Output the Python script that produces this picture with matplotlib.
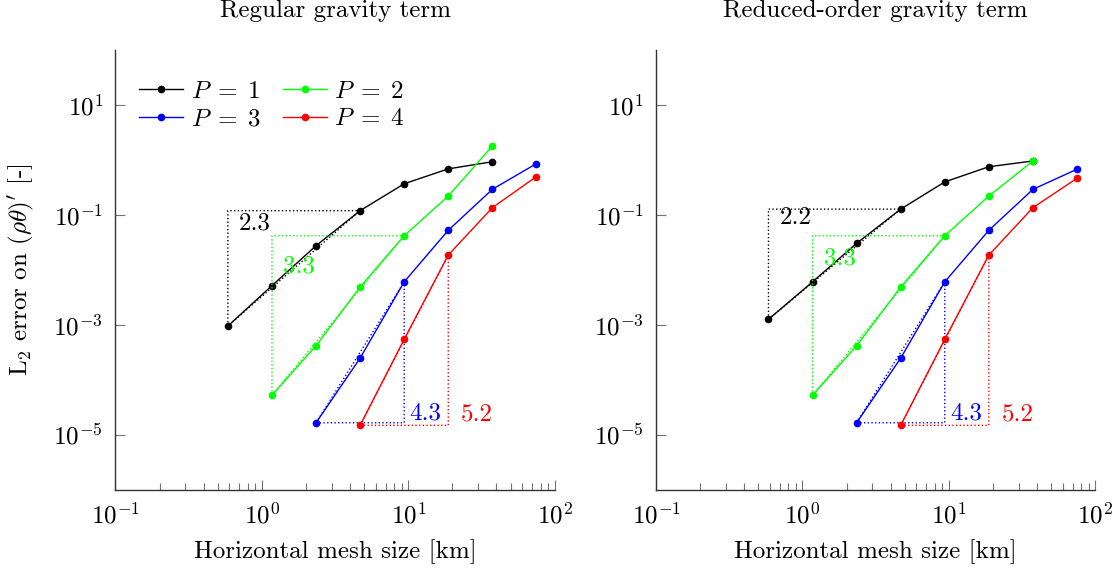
import numpy as np
import matplotlib
matplotlib.use("Agg")
import matplotlib.pyplot as plt
from matplotlib.ticker import LogLocator, NullLocator, NullFormatter

plt.rcParams['font.family'] = 'serif'
plt.rcParams['font.serif'] = ['cmr10', 'DejaVu Serif']
plt.rcParams['mathtext.fontset'] = 'cm'
plt.rcParams['axes.unicode_minus'] = False
plt.rcParams['axes.formatter.use_mathtext'] = True

# Horizontal mesh sizes (km)
dx = [75 / 128, 75 / 64, 75 / 32, 75 / 16, 75 / 8, 75 / 4, 75 / 2, 75]

# Errors, regular gravity term
reg_p1 = [9.6e-4, 5.2e-3, 2.77e-2, 0.12, 0.37, 0.69, 0.93]
reg_p2 = [5.3e-5, 4.2e-4, 4.9e-3, 0.042, 0.221, 1.8]
reg_p3 = [1.67e-5, 2.5e-4, 6.1e-3, 0.0527, 0.293, 0.86]
reg_p4 = [1.5e-5, 5.5e-4, 0.0187, 0.136, 0.50]

# Errors, reduced-order gravity term
red_p1 = [1.27e-3, 6.1e-3, 0.0306, 0.128, 0.40, 0.755, 0.96]
red_p2 = [5.3e-5, 4.2e-4, 4.9e-3, 0.042, 0.221, 0.96]
red_p3 = [1.67e-5, 2.5e-4, 6.1e-3, 0.0527, 0.293, 0.68]
red_p4 = [1.5e-5, 5.5e-4, 0.0187, 0.136, 0.465]

# first mesh index of each order
start = [0, 1, 2, 3]
colors = ['black', '#00ff00', 'blue', 'red']
labels = [r'$P\;=\;1$', r'$P\;=\;2$', r'$P\;=\;3$', r'$P\;=\;4$']

# slope triangles: (first point, last point, upper-left corner?)
tri_span = [(0, 3, True), (0, 3, True), (0, 2, False), (0, 2, False)]
reg_slopes = ['2.3', '3.3', '4.3', '5.2']
red_slopes = ['2.2', '3.3', '4.3', '5.2']
# text offsets from the triangle corner (points)
reg_offs = [(8, -9), (8, -22), (4, 7), (9, 8)]
red_offs = [(8, -6), (8, -16), (4, 7), (9, 8)]

fig = plt.figure(figsize=(11.19, 5.69), dpi=100)
ax1 = fig.add_axes([0.1032, 0.1388, 0.3925, 0.7733])
ax2 = fig.add_axes([0.5863, 0.1388, 0.3925, 0.7733])


def panel(ax, data, slopes, offs, title, legend):
    lines = []
    for k in range(4):
        x = dx[start[k]:start[k] + len(data[k])]
        y = data[k]
        ln, = ax.plot(x, y, '-o', color=colors[k], lw=1.0, ms=4.5, label=labels[k])
        lines.append(ln)
        i0, i1, upper = tri_span[k]
        if upper:
            tx = [x[i0], x[i0], x[i1], x[i0]]
            ty = [y[i0], y[i1], y[i1], y[i0]]
            corner = (x[i0], y[i1])
        else:
            tx = [x[i0], x[i1], x[i1], x[i0]]
            ty = [y[i0], y[i0], y[i1], y[i0]]
            corner = (x[i1], y[i0])
        ax.plot(tx, ty, ':', color=colors[k], lw=1.0)
        ax.annotate(slopes[k], xy=corner, xytext=offs[k], textcoords='offset points',
                    color=colors[k], fontsize=18, ha='left', va='center')

    ax.set_xscale('log')
    ax.set_yscale('log')
    ax.set_xlim(1e-1, 1e2)
    ax.set_ylim(1e-6, 1e2)
    ax.set_yticks([1e-5, 1e-3, 1e-1, 1e1])
    ax.yaxis.set_minor_locator(NullLocator())
    ax.xaxis.set_major_locator(LogLocator(base=10, numticks=10))
    ax.xaxis.set_minor_locator(LogLocator(base=10, subs=np.arange(2, 10), numticks=20))
    ax.xaxis.set_minor_formatter(NullFormatter())
    ax.tick_params(which='both', direction='in', color='0.45', width=0.8, labelsize=18)
    ax.tick_params(which='major', length=7.5, pad=9)
    ax.tick_params(which='minor', length=5)
    for s in ['top', 'right']:
        ax.spines[s].set_visible(False)
    for s in ['left', 'bottom']:
        ax.spines[s].set_linewidth(1.0)
        ax.spines[s].set_color('0.2')
    ax.set_xlabel('Horizontal mesh size [km]', fontsize=18, labelpad=8)
    ax.set_title(title, fontsize=18, pad=24)
    if legend:
        order = [0, 2, 1, 3]
        ax.legend([lines[i] for i in order], [labels[i] for i in order], ncol=2,
                  loc='upper left', bbox_to_anchor=(0.02, 0.965), frameon=False,
                  fontsize=18, handlelength=1.75, handletextpad=0.3,
                  columnspacing=0.9, labelspacing=0.2, borderaxespad=0.2)


panel(ax1, [reg_p1, reg_p2, reg_p3, reg_p4], reg_slopes, reg_offs,
      'Regular gravity term', True)
panel(ax2, [red_p1, red_p2, red_p3, red_p4], red_slopes, red_offs,
      'Reduced-order gravity term', False)
ax1.set_ylabel(r'L$_2$ error on $(\rho\theta)^{\prime}$ [-]', fontsize=18)
ax1.yaxis.set_label_coords(-0.18, 0.5)

fig.savefig('out.png', dpi=100)
